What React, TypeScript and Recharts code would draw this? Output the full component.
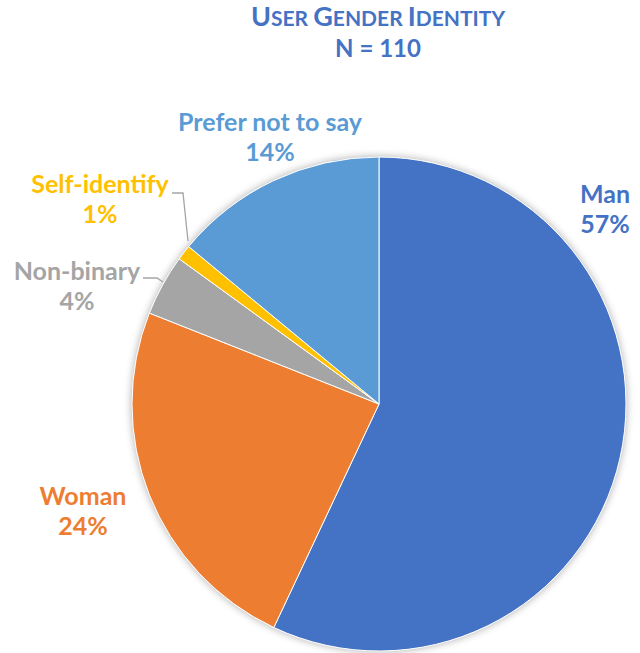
import React from 'react';
import { PieChart, Pie, Cell } from 'recharts';

const categories = ['Man', 'Woman', 'Non-binary', 'Self-identify', 'Prefer not to say'];
const shares = [57, 24, 4, 1, 14];
const colors = ['#4472C4', '#ED7D31', '#A5A5A5', '#FFC000', '#5B9BD5'];

const data = categories.map((name, i) => ({ name, value: shares[i] }));

// label anchor offsets from pie center (text center x, first baseline y)
const labelOffsets: Record<string, { dx: number; dy: number; line?: number[][] }> = {
  'Man': { dx: 226, dy: -201 },
  'Woman': { dx: -296, dy: 101 },
  'Non-binary': { dx: -302, dy: -124, line: [[-236, -126], [-222, -126], [-216, -122]] },
  'Self-identify': { dx: -279, dy: -211, line: [[-207, -211], [-196, -211], [-191, -163]] },
  'Prefer not to say': { dx: -109, dy: -273 },
};

const FONT = 'Lato, "Open Sans", sans-serif';

const renderLabel = (props: any) => {
  const { cx, cy, name, value, index } = props;
  const o = labelOffsets[name];
  const color = colors[index];
  const x = cx + o.dx;
  const y = cy + o.dy;
  return (
    <g key={name}>
      {o.line && (
        <polyline
          points={o.line.map(p => `${cx + p[0]},${cy + p[1]}`).join(' ')}
          fill="none"
          stroke="#A5A5A5"
          strokeWidth={1.3}
        />
      )}
      <text x={x} y={y} textAnchor="middle" fill={color} fontFamily={FONT} fontWeight={700} fontSize={25}>
        <tspan x={x} y={y}>{name}</tspan>
        <tspan x={x} y={y + 30}>{value}%</tspan>
      </text>
    </g>
  );
};

export default function App() {
  const cx = 379;
  const cy = 404;
  return (
    <div style={{ position: 'absolute', left: 0, top: 0, width: 640, height: 653, background: '#fff' }}>
      <PieChart width={640} height={653} margin={{ top: 0, right: 0, bottom: 0, left: 0 }}>
        <defs>
          <filter id="pieShadow" x="-20%" y="-20%" width="140%" height="140%">
            <feGaussianBlur in="SourceAlpha" stdDeviation="4" />
            <feOffset dx="0" dy="0" result="blur" />
            <feComponentTransfer>
              <feFuncA type="linear" slope="0.35" />
            </feComponentTransfer>
            <feMerge>
              <feMergeNode />
              <feMergeNode in="SourceGraphic" />
            </feMerge>
          </filter>
        </defs>
        <text x={378} y={26} textAnchor="middle" fill="#4472C4" fontFamily={FONT} fontWeight={700}>
          <tspan fontSize={27}>U</tspan>
          <tspan fontSize={21}>SER </tspan>
          <tspan fontSize={27}>G</tspan>
          <tspan fontSize={21}>ENDER </tspan>
          <tspan fontSize={27}>I</tspan>
          <tspan fontSize={21}>DENTITY</tspan>
        </text>
        <text x={378} y={57} textAnchor="middle" fill="#4472C4" fontFamily={FONT} fontWeight={700} fontSize={24}>
          N = 110
        </text>
        <Pie
          data={[{ name: 'shadow', value: 1 }]}
          dataKey="value"
          cx={cx}
          cy={cy}
          outerRadius={247}
          startAngle={90}
          endAngle={-270}
          isAnimationActive={false}
          stroke="none"
          label={false}
        >
          <Cell fill="#ffffff" filter="url(#pieShadow)" />
        </Pie>
        <Pie
          data={data}
          dataKey="value"
          nameKey="name"
          cx={cx}
          cy={cy}
          outerRadius={247}
          startAngle={90}
          endAngle={-270}
          isAnimationActive={false}
          stroke="#ffffff"
          strokeWidth={1}
          label={renderLabel}
          labelLine={false}
        >
          {data.map((d, i) => (
            <Cell key={d.name} fill={colors[i]} />
          ))}
        </Pie>
      </PieChart>
    </div>
  );
}
